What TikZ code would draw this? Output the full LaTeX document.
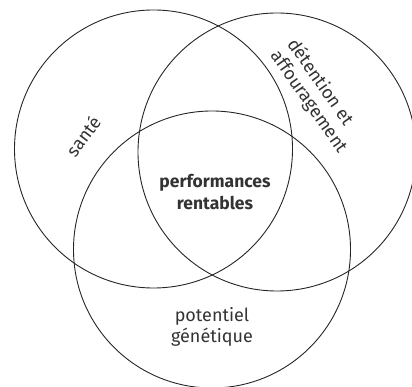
\documentclass[tikz,border=0pt]{standalone}
\usepackage{fontspec}
\setmainfont{Fira Sans}
\begin{document}
\begin{tikzpicture}[x=1pt,y=1pt,
  ring/.style={draw=black!85, line width=0.9pt},
  lbl/.style={text=black!80, font=\fontsize{18}{20.5}\selectfont, align=center, inner sep=0pt},
  lblb/.style={lbl, font=\fontsize{17.5}{22}\selectfont\bfseries}]
\useasboundingbox (0,0) rectangle (412,387);
\clip (0,0) rectangle (412,387);
\draw[ring] (153.5,238) circle (139);
\draw[ring] (277,235) circle (139);
\draw[ring] (212,137.5) circle (138.5);
\node[lblb] (center) at (215,195) {performances\\rentables};
\node[lbl] (gen) at (212,60) {potentiel\\génétique};
\node[lbl, rotate=53] (sante) at (83,251) {santé};
\node[lbl, rotate=-55, align=left] (det) at (317,291) {détention et\\affouragement};
\end{tikzpicture}
\end{document}
